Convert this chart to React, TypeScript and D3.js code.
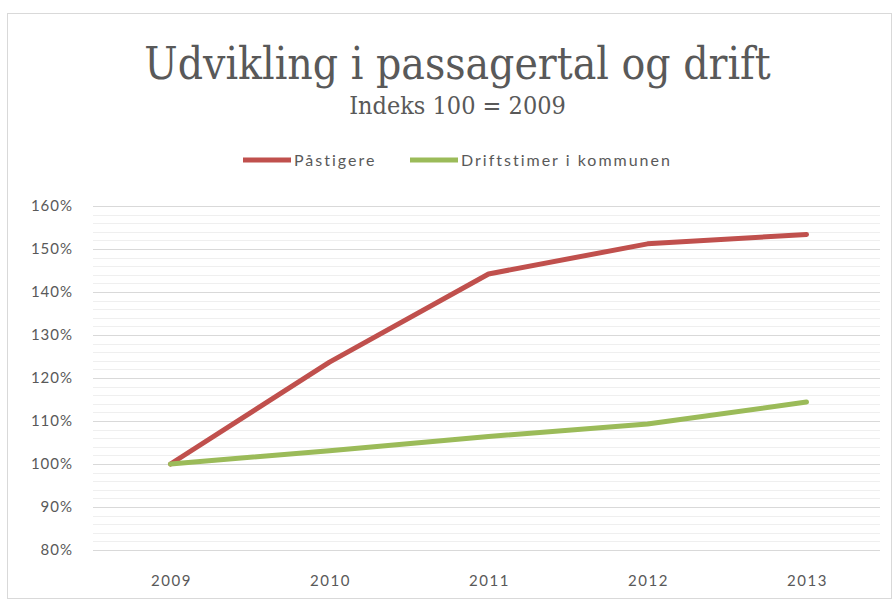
import React, { useEffect, useRef } from 'react';
import * as d3 from 'd3';

const YEARS = ['2009', '2010', '2011', '2012', '2013'];
const PASTIGERE = [100, 123.7, 144.2, 151.2, 153.4];
const DRIFTSTIMER = [100, 103.1, 106.4, 109.3, 114.4];
const SERIES_NAMES = ['Påstigere', 'Driftstimer i kommunen'];
const Y_TICKS = [80, 90, 100, 110, 120, 130, 140, 150, 160];

const COLORS = ['#C0504D', '#9BBB59'];

const App: React.FC = () => {
  const svgRef = useRef<SVGSVGElement>(null);

  useEffect(() => {
    if (!svgRef.current) return;
    const width = 893;
    const svg = d3.select(svgRef.current);
    svg.selectAll('*').remove();

    // outer chart frame
    svg.append('rect')
      .attr('x', 7.5).attr('y', 13.5)
      .attr('width', 884).attr('height', 585)
      .attr('fill', '#fff')
      .attr('stroke', '#D9D9D9');

    const x = d3.scaleBand<string>().domain(YEARS).range([91, 886]);
    const y = d3.scaleLinear().domain([80, 160]).range([550, 206]);
    const labelFont = 'Lato, "Open Sans", sans-serif';

    // minor gridlines every 2%
    const minor = d3.range(80, 161, 2).filter((v) => v % 10 !== 0);
    svg.append('g').selectAll('line').data(minor).enter().append('line')
      .attr('x1', 93).attr('x2', 880)
      .attr('y1', (d) => Math.round(y(d)) + 0.5).attr('y2', (d) => Math.round(y(d)) + 0.5)
      .attr('stroke', '#EFEFEF');

    svg.append('g').selectAll('line').data(Y_TICKS).enter().append('line')
      .attr('x1', 93).attr('x2', 880)
      .attr('y1', (d) => Math.round(y(d)) + 0.5).attr('y2', (d) => Math.round(y(d)) + 0.5)
      .attr('stroke', '#D9D9D9');

    svg.append('g').selectAll('text').data(Y_TICKS).enter().append('text')
      .attr('x', 73).attr('y', (d) => y(d)).attr('dy', '0.35em')
      .attr('text-anchor', 'end')
      .attr('font-family', labelFont).attr('font-size', 15)
      .attr('letter-spacing', 1)
      .attr('fill', '#595959')
      .text((d) => `${d}%`);

    svg.append('g').selectAll('text').data(YEARS).enter().append('text')
      .attr('x', (d) => (x(d) ?? 0) + x.bandwidth() / 2 + 1).attr('y', 586)
      .attr('text-anchor', 'middle')
      .attr('font-family', labelFont).attr('font-size', 15)
      .attr('letter-spacing', 1.5)
      .attr('fill', '#595959')
      .text((d) => d);

    const line = d3.line<number>()
      .x((_, i) => (x(YEARS[i]) ?? 0) + x.bandwidth() / 2)
      .y((d) => y(d));

    [PASTIGERE, DRIFTSTIMER].forEach((vals, i) => {
      svg.append('path')
        .datum(vals)
        .attr('d', line)
        .attr('fill', 'none')
        .attr('stroke', COLORS[i])
        .attr('stroke-width', 5)
        .attr('stroke-linejoin', 'round')
        .attr('stroke-linecap', 'round');
    });

    // title
    svg.append('text')
      .attr('x', width / 2 + 11).attr('y', 79)
      .attr('text-anchor', 'middle')
      .attr('font-family', '"DejaVu Serif Condensed", "Liberation Serif", serif')
      .attr('font-size', 44)
      .attr('fill', '#595959')
      .text('Udvikling i passagertal og drift');

    svg.append('text')
      .attr('x', width / 2 + 11).attr('y', 114)
      .attr('text-anchor', 'middle')
      .attr('font-family', '"DejaVu Serif Condensed", "Liberation Serif", serif')
      .attr('font-size', 25)
      .attr('fill', '#595959')
      .text('Indeks 100 = 2009');

    // legend
    const legendItems = [
      { name: SERIES_NAMES[0], x0: 243 },
      { name: SERIES_NAMES[1], x0: 410 },
    ];
    legendItems.forEach((it, i) => {
      svg.append('line')
        .attr('x1', it.x0).attr('x2', it.x0 + 48)
        .attr('y1', 160).attr('y2', 160)
        .attr('stroke', COLORS[i]).attr('stroke-width', 5);
      svg.append('text')
        .attr('x', it.x0 + 51).attr('y', 160).attr('dy', '0.35em')
        .attr('font-family', labelFont).attr('font-size', 16)
        .attr('letter-spacing', 2)
        .attr('fill', '#595959')
        .text(it.name);
    });
  }, []);

  return (
    <svg
      ref={svgRef}
      width={893}
      height={601}
      style={{ position: 'absolute', left: 0, top: 0, background: '#fff' }}
    />
  );
};

export default App;
